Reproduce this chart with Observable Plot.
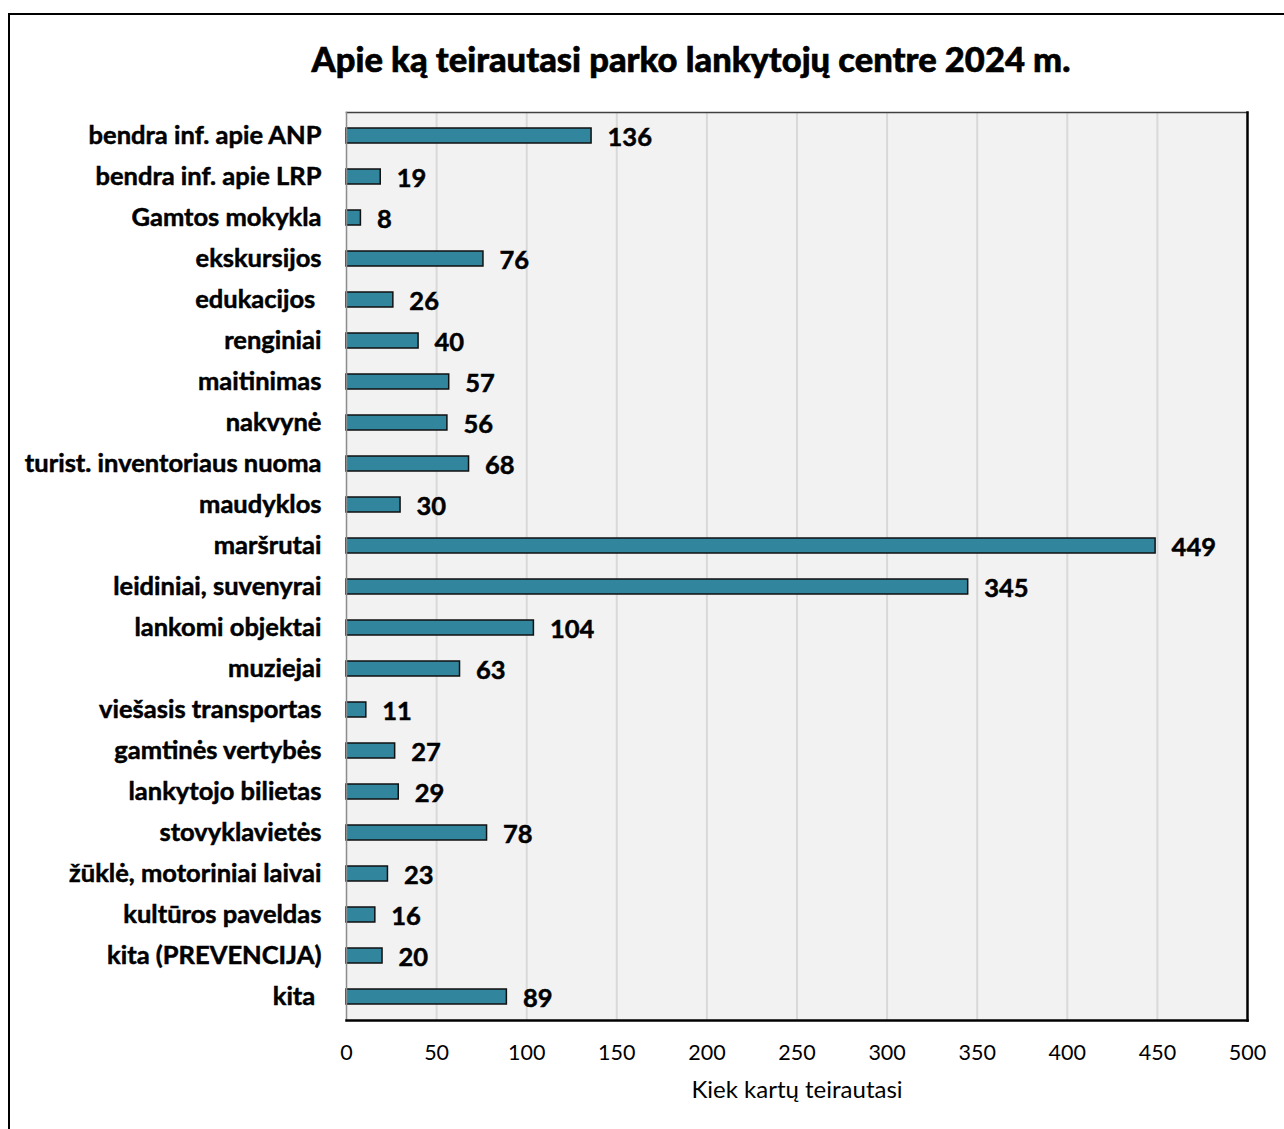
<!DOCTYPE html>
<html>
<head>
<meta charset="utf-8">
<script src="https://cdn.jsdelivr.net/npm/d3@7"></script>
<script src="https://cdn.jsdelivr.net/npm/@observablehq/plot@0.6"></script>
<style>
  html, body { margin: 0; padding: 0; background: #fff; overflow: hidden; }
  body { width: 1284px; height: 1129px; position: relative; font-family: Lato, "Open Sans", sans-serif; }
  #frame { position: absolute; left: 8px; top: 13px; width: 1300px; height: 1140px; border: 2px solid #000; box-sizing: border-box; }
  #title { position: absolute; left: 0; top: 38px; width: 1382px; text-align: center; font-weight: 900; font-size: 34.5px; color: #000; -webkit-text-stroke: 0.6px #000; }
  #chart { position: absolute; left: 0; top: 0; }
  #chart svg g[aria-label="y-axis tick label"] text { stroke: #000; stroke-width: 0.5px; }
  #chart svg g.values text { stroke: #000; stroke-width: 0.5px; }
</style>
</head>
<body>
<div id="frame"></div>
<div id="title">Apie ką teirautasi parko lankytojų centre 2024 m.</div>
<div id="chart"></div>
<script>
const categories = [
  "bendra inf. apie ANP", "bendra inf. apie LRP", "Gamtos mokykla", "ekskursijos",
  "edukacijos ", "renginiai", "maitinimas", "nakvynė", "turist. inventoriaus nuoma",
  "maudyklos", "maršrutai", "leidiniai, suvenyrai", "lankomi objektai", "muziejai",
  "viešasis transportas", "gamtinės vertybės", "lankytojo bilietas", "stovyklavietės",
  "žūklė, motoriniai laivai", "kultūros paveldas", "kita (PREVENCIJA)", "kita "
];
const values = [136, 19, 8, 76, 26, 40, 57, 56, 68, 30, 449, 345, 104, 63, 11, 27, 29, 78, 23, 16, 20, 89];
const xTicks = [0, 50, 100, 150, 200, 250, 300, 350, 400, 450, 500];
const xLabel = "Kiek kartų teirautasi";

const data = categories.map((c, i) => ({category: c, value: values[i]}));

const chart = Plot.plot({
  width: 1284,
  height: 1129,
  marginLeft: 346,
  marginRight: 37,
  marginTop: 112,
  marginBottom: 109,
  style: {fontFamily: "Lato, 'Open Sans', sans-serif", color: "#000", background: "transparent"},
  x: {domain: [0, 500], ticks: xTicks},
  y: {domain: categories, paddingInner: 0.63, paddingOuter: 0.315},
  marks: [
    Plot.frame({fill: "#f2f2f2", stroke: null}),
    Plot.ruleX(xTicks.slice(1, -1), {stroke: "#d9d9d9", strokeWidth: 2}),
    Plot.barX(data, {x: "value", y: "category", fill: "#31859c", stroke: "#111", strokeWidth: 1.5}),
    Plot.text(data, {x: "value", y: "category", text: d => String(d.value), textAnchor: "start", dx: 16, dy: 2, fontSize: 25.5, fontWeight: "bold", fill: "#000", className: "values"}),
    Plot.axisY({tickSize: 0, tickPadding: 25, fontSize: 25.5, fontWeight: "bold", label: null}),
    Plot.axisX({ticks: xTicks, tickSize: 0, tickPadding: 24, fontSize: 21.5, label: null}),
    Plot.text([xLabel], {frameAnchor: "bottom", dy: 77, fontSize: 24, fill: "#000"}),
    Plot.frame({anchor: "top", stroke: "#404040", strokeWidth: 1.5}),
    Plot.frame({anchor: "left", stroke: "#8c8c8c", strokeWidth: 1.5}),
    Plot.frame({anchor: "right", stroke: "#000", strokeWidth: 2.5}),
    Plot.frame({anchor: "bottom", stroke: "#000", strokeWidth: 2.5})
  ]
});
document.getElementById("chart").appendChild(chart);
</script>
</body>
</html>
